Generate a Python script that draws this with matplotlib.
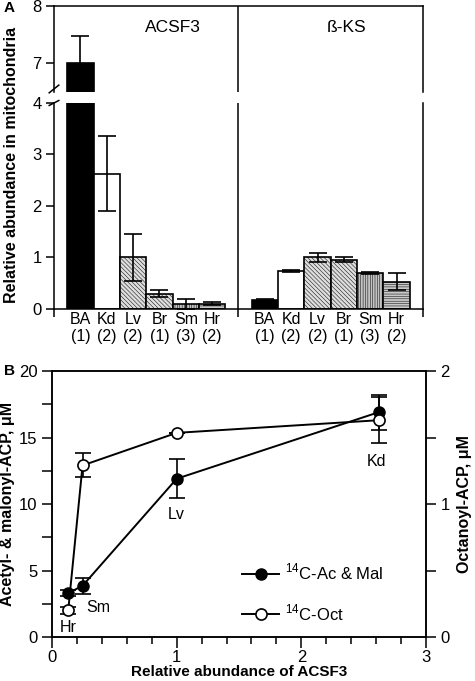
import matplotlib
matplotlib.use("Agg")
import matplotlib.pyplot as plt
from matplotlib.lines import Line2D

plt.rcParams['font.family'] = ['Liberation Sans', 'DejaVu Sans']
plt.rcParams['mathtext.fontset'] = 'custom'
plt.rcParams['mathtext.rm'] = 'Liberation Sans'
plt.rcParams['hatch.color'] = '#9a9a9a'
plt.rcParams['hatch.linewidth'] = 0.35

# Panel A data
tissues = ["BA", "Kd", "Lv", "Br", "Sm", "Hr"]
n_samples = ["(1)", "(2)", "(2)", "(1)", "(3)", "(2)"]
acsf3 = [7.0, 2.63, 1.0, 0.30, 0.10, 0.10]
acsf3_err = [0.47, 0.72, 0.46, 0.065, 0.10, 0.03]
bks = [0.17, 0.73, 1.0, 0.96, 0.69, 0.53]
bks_err = [0.02, 0.02, 0.09, 0.045, 0.02, 0.16]

# Panel B data
b_tissues = ["Hr", "Sm", "Lv", "Kd"]
acsf3_rel = [0.13, 0.245, 1.0, 2.62]
acmal = [3.3, 3.85, 11.9, 16.9]
acmal_err = [0.2, 0.6, 1.45, 1.3]
octanoyl = [0.20, 1.29, 1.535, 1.63]
octanoyl_err = [0.025, 0.09, 0.0, 0.175]

fills = ["black", "white", "#dedede", "#dedede", "#c2c2c2", "#c8c8c8"]
hatches = [None, None, "\\\\\\\\\\\\\\\\", "\\\\\\\\\\\\\\\\", "|||||||", "-------"]

fig = plt.figure(figsize=(4.75, 6.81), dpi=100)

LW = 1.1
FS = 12
ax_lo = fig.add_axes([0.1137, 0.5463, 0.7768, 0.3025])
ax_hi = fig.add_axes([0.1137, 0.8656, 0.7768, 0.1256])

pos1 = [i + 1 for i in range(len(tissues))]
pos2 = [i + 8 for i in range(len(tissues))]

for ax in (ax_lo, ax_hi):
    for vals, errs, pos in ((acsf3, acsf3_err, pos1), (bks, bks_err, pos2)):
        for p, v, e, fc, h in zip(pos, vals, errs, fills, hatches):
            ax.bar(p, v, width=1.0, color=fc, edgecolor='black', linewidth=1.2,
                   hatch=h, zorder=2)
            ax.errorbar(p, v, yerr=e, fmt='none', ecolor='black', elinewidth=1.2,
                        capsize=6.5, capthick=1.2, zorder=3)
    ax.axvline(7, color='black', lw=LW, zorder=4)
    ax.set_xlim(0, 14)
    for s in ax.spines.values():
        s.set_linewidth(LW)
    ax.tick_params(axis='y', direction='out', length=6, width=LW, labelsize=FS, pad=3)

ax_lo.set_ylim(0, 4)
ax_lo.set_yticks([0, 1, 2, 3, 4])
ax_lo.spines['top'].set_visible(False)
ax_lo.set_xticks([0, 7, 14], ['', '', ''])
ax_lo.tick_params(axis='x', which='major', direction='out', length=6, width=LW)
ax_lo.set_xticks(pos1 + pos2, [f"{t}\n{n}" for t, n in zip(tissues * 2, n_samples * 2)],
                 minor=True)
ax_lo.tick_params(axis='x', which='minor', length=0, labelsize=11.5, pad=2)
for lbl in ax_lo.get_xticklabels(minor=True):
    lbl.set_linespacing(1.15)

ax_hi.set_ylim(6.5, 8)
ax_hi.set_yticks([7, 8])
ax_hi.spines['bottom'].set_visible(False)
ax_hi.set_xticks([])

ax_hi.text(4.5, 7.62, "ACSF3", ha='center', va='center', fontsize=12.5)
ax_hi.text(11.1, 7.62, "ß-KS", ha='center', va='center', fontsize=12.5)

# break marks on the left spine
dx, dy = 0.013, 0.045
ax_hi.plot([-dx, dx], [0.03 - dy, 0.03 + dy], transform=ax_hi.transAxes,
           color='black', lw=LW, clip_on=False)
ax_lo.plot([-dx, dx], [1.0 - 0.012, 1.0 + 0.012], transform=ax_lo.transAxes,
           color='black', lw=LW, clip_on=False)

fig.text(0.024, 1 - 165 / 681, "Relative abundance in mitochondria", rotation=90,
         ha='center', va='center', fontsize=11.5, fontweight='bold')
fig.text(0.008, 0.988, "A", fontsize=11, fontweight='bold', ha='left', va='center')
fig.text(0.008, 1 - 371 / 681, "B", fontsize=11, fontweight='bold', ha='left', va='center')

# Panel B
axb = fig.add_axes([0.1095, 0.0646, 0.7873, 0.3906])
axr = axb.twinx()

axb.plot(acsf3_rel, acmal, '-', color='black', lw=1.4, zorder=3)
axb.errorbar(acsf3_rel, acmal, yerr=acmal_err, fmt='o', color='black', ms=8,
             elinewidth=1.2, capsize=5.5, capthick=1.2, zorder=4)
axr.plot(acsf3_rel, octanoyl, '-', color='black', lw=1.4, zorder=3)
axr.errorbar(acsf3_rel, octanoyl, yerr=octanoyl_err, fmt='o', color='black', mfc='white',
             ms=8, mew=1.2, elinewidth=1.2, capsize=5.5, capthick=1.2, zorder=4)

axb.set_xlim(0, 3)
axb.set_ylim(0, 20)
axr.set_ylim(0, 2)
axb.set_xticks([0, 1, 2, 3])
axb.set_xticks([0.2 * i for i in range(16)], minor=True)
axb.set_yticks([0, 5, 10, 15, 20])
axb.set_yticks([2.5, 7.5, 12.5, 17.5], minor=True)
axr.set_yticks([0, 1, 2])
axr.set_yticks([0.5, 1.5], minor=True)
for ax in (axb, axr):
    for s in ax.spines.values():
        s.set_linewidth(LW)
    ax.tick_params(which='major', direction='out', length=7, width=LW, labelsize=FS)
    ax.tick_params(which='minor', direction='out', length=5, width=LW)
axb.tick_params(axis='y', which='minor', length=7)
axr.tick_params(axis='y', which='minor', length=7)
axb.tick_params(axis='x', which='major', length=8, pad=1.5)

label_offsets = {"Hr": (0.13, 0.75), "Sm": (0.37, 2.2), "Lv": (1.0, 9.2), "Kd": (2.6, 13.2)}
for t in b_tissues:
    x, y = label_offsets[t]
    axb.text(x, y, t, ha='center', va='center', fontsize=11.5)

axb.set_xlabel("Relative abundance of ACSF3", fontsize=11, fontweight='bold', labelpad=0)
axb.set_ylabel("Acetyl- & malonyl-ACP, μM", fontsize=11.5, fontweight='bold', labelpad=3)
axr.set_ylabel("Octanoyl-ACP, μM", fontsize=11.5, fontweight='bold', labelpad=5)

handles = [Line2D([], [], color='black', marker='o', ms=8, lw=1.4),
           Line2D([], [], color='black', marker='o', mfc='white', ms=8, mew=1.2, lw=1.4)]
axb.legend(handles, ["$^{14}$C-Ac & Mal", "$^{14}$C-Oct"], loc='center left',
           bbox_to_anchor=(0.487, 0.167), frameon=False, fontsize=12, borderpad=0,
           handlelength=2.2, handletextpad=0.35, labelspacing=1.2)

fig.savefig("out.png", dpi=100)
